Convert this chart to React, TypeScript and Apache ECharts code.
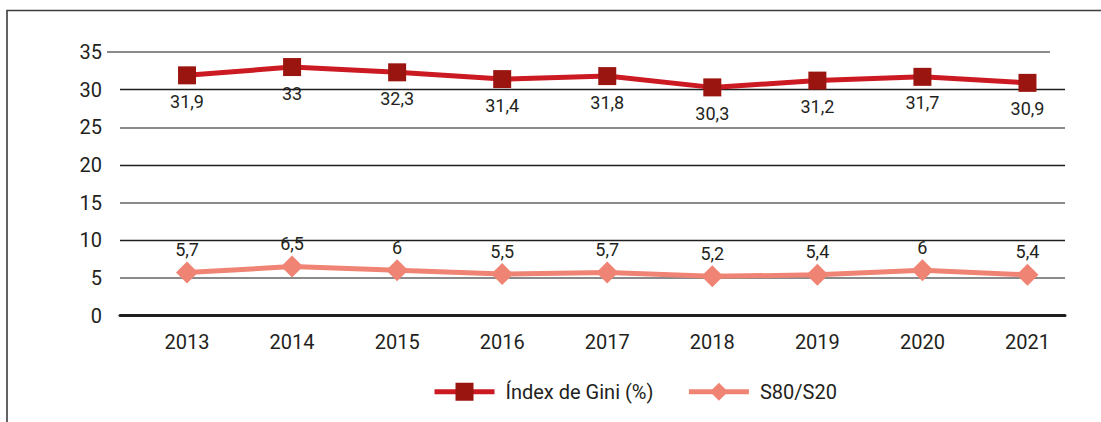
import React, { useEffect, useRef } from "react";
import * as echarts from "echarts";

const years = ["2013", "2014", "2015", "2016", "2017", "2018", "2019", "2020", "2021"];
const giniValues = [31.9, 33, 32.3, 31.4, 31.8, 30.3, 31.2, 31.7, 30.9];
const s80s20Values = [5.7, 6.5, 6, 5.5, 5.7, 5.2, 5.4, 6, 5.4];
const seriesNames = ["Índex de Gini (%)", "S80/S20"];

const FONT = "Roboto";
const TEXT = "#231f20";
const GRAY = "#8a8a8a";
const DARK = "#1e1e1e";
const T = "rgba(0,0,0,0)";

const fmt = (v: number) => String(v).replace(".", ",");

export default function App() {
  const ref = useRef<HTMLDivElement>(null);
  useEffect(() => {
    document.body.style.margin = "0";
    const chart = echarts.init(ref.current!, null, { renderer: "svg" });
    const gridTop = 52;
    const gridBottom = 106.5;
    const yBase = { type: "value", min: 0, max: 35, interval: 5 };
    chart.setOption({
      animation: false,
      textStyle: { fontFamily: FONT },
      grid: [
        { left: 120, right: 36, top: gridTop, bottom: gridBottom },
        { left: 120, right: 36, top: gridTop, bottom: gridBottom },
        { left: 107, right: 51, top: gridTop, bottom: gridBottom },
        { left: 134.5, right: 21, top: gridTop, bottom: gridBottom },
      ],
      xAxis: [
        {
          gridIndex: 0,
          type: "category",
          data: years,
          axisLine: { show: true, lineStyle: { color: DARK, width: 3 } },
          axisTick: { show: false },
          axisLabel: { show: false },
        },
        { gridIndex: 1, type: "category", data: years, show: false },
        { gridIndex: 2, type: "category", data: years, show: false },
        {
          gridIndex: 3,
          type: "category",
          data: years,
          boundaryGap: true,
          axisLine: { show: false },
          axisTick: { show: false },
          axisLabel: { fontSize: 20, color: TEXT, margin: 16, fontFamily: FONT },
        },
      ],
      yAxis: [
        {
          ...yBase,
          gridIndex: 0,
          axisLine: { show: false },
          axisTick: { show: false },
          axisLabel: { fontSize: 20, color: TEXT, margin: 18, fontFamily: FONT },
          splitLine: {
            show: true,
            lineStyle: { color: [T, T, DARK, T, DARK, T, DARK, T], width: 1.4 },
          },
        },
        {
          ...yBase,
          gridIndex: 1,
          axisLine: { show: false },
          axisTick: { show: false },
          axisLabel: { show: false },
          splitLine: {
            show: true,
            lineStyle: { color: [T, GRAY, T, GRAY, T, GRAY, T, T], width: 2 },
          },
        },
        {
          ...yBase,
          gridIndex: 2,
          axisLine: { show: false },
          axisTick: { show: false },
          axisLabel: { show: false },
          splitLine: {
            show: true,
            lineStyle: { color: [T, T, T, T, T, T, T, GRAY], width: 2 },
          },
        },
        { ...yBase, gridIndex: 3, show: false, splitLine: { show: false } },
      ],
      legend: {
        data: seriesNames,
        left: 427,
        top: 376.75,
        itemWidth: 60,
        itemHeight: 22.5,
        itemGap: 33,
        lineStyle: { width: 5 },
        textStyle: { fontSize: 20, color: TEXT, fontFamily: FONT, padding: [0, 0, 0, 6] },
      },
      series: [
        {
          name: seriesNames[0],
          type: "line",
          xAxisIndex: 3,
          yAxisIndex: 3,
          data: giniValues,
          symbol: "rect",
          symbolSize: 18,
          lineStyle: { color: "#cc1a22", width: 5 },
          itemStyle: { color: "#9b1510" },
          label: {
            show: true,
            position: "bottom",
            distance: 8,
            fontSize: 18,
            color: TEXT,
            fontFamily: FONT,
            formatter: (p: any) => fmt(p.value),
          },
        },
        {
          name: seriesNames[1],
          type: "line",
          xAxisIndex: 3,
          yAxisIndex: 3,
          data: s80s20Values,
          symbol: "diamond",
          symbolSize: 22,
          lineStyle: { color: "#f08474", width: 5 },
          itemStyle: { color: "#f08474" },
          label: {
            show: true,
            position: "top",
            distance: 3,
            fontSize: 18,
            color: TEXT,
            fontFamily: FONT,
            formatter: (p: any) => fmt(p.value),
          },
        },
      ],
      graphic: [
        {
          type: "polyline",
          silent: true,
          shape: { points: [[7, 422], [7, 10.5], [1101, 10.5]] },
          style: { fill: null, stroke: "#3c3c3c", lineWidth: 1.6 },
        },
      ],
    });
    return () => chart.dispose();
  }, []);
  return <div ref={ref} style={{ width: 1101, height: 422 }} />;
}
